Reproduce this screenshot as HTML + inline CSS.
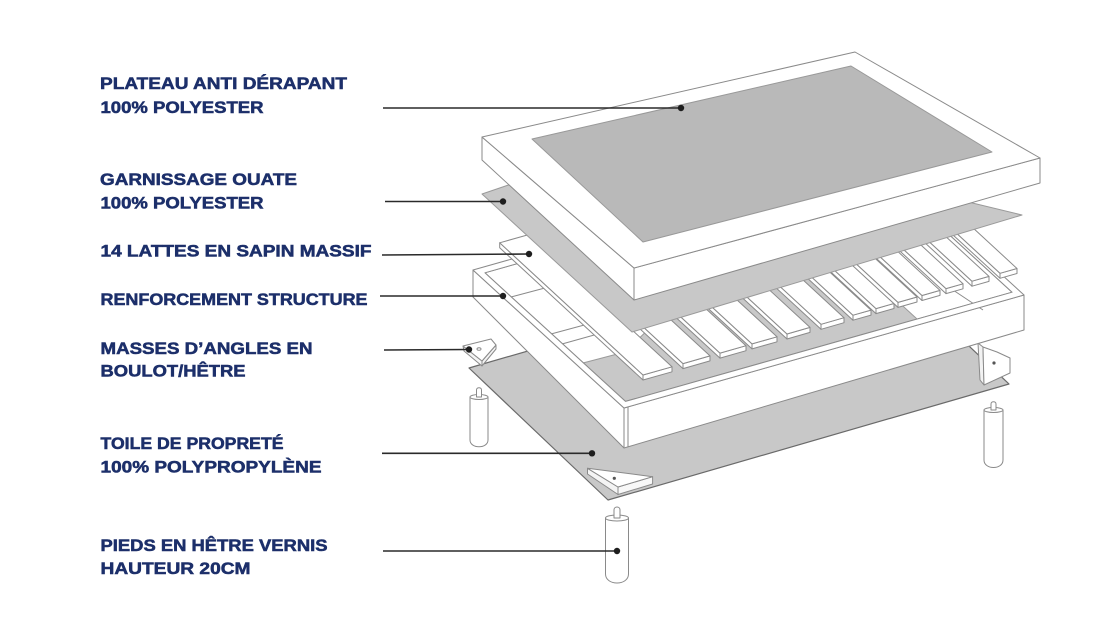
<!DOCTYPE html>
<html><head><meta charset="utf-8">
<style>
html,body{margin:0;padding:0;background:#fff;}
svg{display:block;}
</style></head>
<body>
<svg width="1106" height="622" viewBox="0 0 1106 622" xmlns="http://www.w3.org/2000/svg">
<rect width="1106" height="622" fill="#fff"/>

<g stroke="#8a8a8a" stroke-width="1" stroke-linejoin="round" fill="#fff">
  <!-- toile de propreté -->
  <polygon points="469,368 870,252 1009,384 608,500" fill="#c8c8c8" stroke="#6a6a6a" stroke-width="1.2"/>

  <!-- legs -->
  <path d="M470,397 V440 C470,449 488,449 488,440 V397 Z"/>
  <ellipse cx="479" cy="397" rx="9" ry="2.5"/>
  <path d="M476.5,397 V390 C476.5,387 481.5,387 481.5,390 V397 Z"/>

  <path d="M984,410 V460 C984,470 1003,470 1003,460 V410 Z"/>
  <ellipse cx="993.5" cy="410" rx="9.5" ry="2.5"/>
  <path d="M991,410 V404 C991,401 996,401 996,404 V410 Z"/>

  <path d="M605.5,518 V574 C605.5,586 628.5,586 628.5,574 V518 Z"/>
  <ellipse cx="617" cy="518" rx="11.5" ry="3"/>
  <path d="M614,518 V510 C614,506 620,506 620,510 V518 Z"/>

  <!-- masses d'angles -->
  <polygon points="978,343 983,347 984,385 980,380" fill="#f2f2f2"/>
  <polygon points="983,347 997,352 1010,358 1010,373 984,385"/>
  <circle cx="994" cy="363" r="1.6" fill="#555" stroke="none"/>

  <polygon points="463,346 482,361 482,366 464,351" fill="#f4f4f4"/>
  <polygon points="482,361 496,345 496,349 482,366" fill="#f4f4f4"/>
  <polygon points="463,346 491,339 496,345 482,361"/>
  <ellipse cx="479" cy="349" rx="2" ry="1.3" fill="none"/>

  <polygon points="587.5,468.3 618,487 618,494.5 587.5,474" fill="#f4f4f4"/>
  <polygon points="618,487 652.6,476.7 652.6,484 618,494.5" fill="#f8f8f8"/>
  <polygon points="587.5,468.3 652.6,476.7 618,487"/>
  <circle cx="614.3" cy="478.3" r="1.6" fill="#555" stroke="none"/>

  <!-- box (renforcement structure) -->
  <polygon points="473,270 624,408 624,448 473,297"/>
  <polygon points="624,408 1024,295 1024,330 624,448"/>
  <line x1="628" y1="407" x2="628" y2="447"/>
  <polygon points="484.9,272.8 871.5,163.6 1012.1,292.2 625.5,401.4"/>
  <polygon points="625.5,401.4 917,319 855,262 660,318 625,352 583.4,362.9" fill="#c8c8c8" stroke="#9a9a9a"/>
  <path d="M511,297 L560,284 M551,334 L625,314 M562,344 L630,325 M953,290 L983,310" fill="none"/>
  <path d="M473,270 L873,157 L1024,295 L624,408 Z M484.9,272.8 L871.5,163.6 L1012.1,292.2 L625.5,401.4 Z" fill-rule="evenodd"/>

  <!-- slats -->
  <g>
    <polygon points="499.7,242.8 643,375 643,380 499.7,247.8"/>
    <polygon points="643,375 672,366.8 672,371.8 643,380"/>
    <polygon points="643,375 672,366.8 528.7,234.6 499.7,242.8"/>

    <polygon points="539.7,231.4 683,363.6 683,368.6 539.7,236.4"/>
    <polygon points="683,363.6 710,355.9 710,360.9 683,368.6"/>
    <polygon points="683,363.6 710,355.9 566.7,223.7 539.7,231.4"/>

    <polygon points="576.7,220.9 720,353.1 720,358.1 576.7,225.9"/>
    <polygon points="720,353.1 746,345.7 746,350.7 720,358.1"/>
    <polygon points="720,353.1 746,345.7 602.7,213.5 576.7,220.9"/>

    <polygon points="608.7,211.7 752,343.9 752,348.9 608.7,216.7"/>
    <polygon points="752,343.9 777,336.8 777,341.8 752,348.9"/>
    <polygon points="752,343.9 777,336.8 633.7,204.6 608.7,211.7"/>

    <polygon points="643.7,201.8 787,334 787,339 643.7,206.8"/>
    <polygon points="787,334 810,327.4 810,332.4 787,339"/>
    <polygon points="787,334 810,327.4 666.7,195.2 643.7,201.8"/>

    <polygon points="677.7,192.1 821,324.3 821,329.3 677.7,197.1"/>
    <polygon points="821,324.3 844,317.7 844,322.7 821,329.3"/>
    <polygon points="821,324.3 844,317.7 700.7,185.5 677.7,192.1"/>

    <polygon points="709.7,183 853,315.2 853,320.2 709.7,188"/>
    <polygon points="853,315.2 871,310.1 871,315.1 853,320.2"/>
    <polygon points="853,315.2 871,310.1 727.7,177.9 709.7,183"/>

    <polygon points="732.7,176.4 876,308.6 876,313.6 732.7,181.4"/>
    <polygon points="876,308.6 894,303.5 894,308.5 876,313.6"/>
    <polygon points="876,308.6 894,303.5 750.7,171.3 732.7,176.4"/>

    <polygon points="754.7,170.2 898,302.4 898,307.4 754.7,175.2"/>
    <polygon points="898,302.4 917,297 917,302 898,307.4"/>
    <polygon points="898,302.4 917,297 773.7,164.8 754.7,170.2"/>

    <polygon points="778.7,163.3 922,295.5 922,300.5 778.7,168.3"/>
    <polygon points="922,295.5 940,290.4 940,295.4 922,300.5"/>
    <polygon points="922,295.5 940,290.4 796.7,158.2 778.7,163.3"/>

    <polygon points="802.7,156.4 946,288.6 946,293.6 802.7,161.4"/>
    <polygon points="946,288.6 963,283.8 963,288.8 946,293.6"/>
    <polygon points="946,288.6 963,283.8 819.7,151.6 802.7,156.4"/>

    <polygon points="828.7,149 972,281.2 972,286.2 828.7,154"/>
    <polygon points="972,281.2 989,276.4 989,281.4 972,286.2"/>
    <polygon points="972,281.2 989,276.4 845.7,144.2 828.7,149"/>

    <polygon points="856.7,141.1 1000,273.3 1000,278.3 856.7,146.1"/>
    <polygon points="1000,273.3 1017,268.5 1017,273.5 1000,278.3"/>
    <polygon points="1000,273.3 1017,268.5 873.7,136.3 856.7,141.1"/>
  </g>

  <!-- garnissage ouate -->
  <polygon points="482,194 700,120 960,200 1022,215 632,332" fill="#c8c8c8" stroke="#9a9a9a"/>

  <!-- plateau (top frame) -->
  <polygon points="482,137 634,268 634,300 482,160"/>
  <polygon points="634,268 1040,158 1040,183 634,300"/>
  <polygon points="482,137 855,52 1040,158 634,268"/>
  <polygon points="532,139 851,66 992,152 643,242" fill="#b9b9b9" stroke="#999"/>
</g>

<!-- connectors -->
<g stroke="#2a2a2a" stroke-width="1.6" fill="none">
  <line x1="383" y1="108" x2="681" y2="108"/>
  <line x1="385" y1="201.5" x2="503" y2="201.5"/>
  <line x1="382" y1="255" x2="529" y2="254"/>
  <line x1="380" y1="296" x2="503" y2="296"/>
  <line x1="384" y1="350" x2="469" y2="349.5"/>
  <line x1="382" y1="453.3" x2="592" y2="453.3"/>
  <line x1="383" y1="551" x2="617" y2="551"/>
</g>
<g fill="#1e1e1e">
  <circle cx="681" cy="108" r="3.2"/>
  <circle cx="503" cy="201.5" r="3.2"/>
  <circle cx="529" cy="254" r="3.2"/>
  <circle cx="503" cy="296" r="3.2"/>
  <circle cx="469" cy="349.5" r="3.2"/>
  <circle cx="592" cy="453.3" r="3.2"/>
  <circle cx="617" cy="551" r="3.2"/>
</g>

<!-- labels -->
<g font-family="'Liberation Sans', Arial, sans-serif" font-weight="bold" font-size="17" fill="#1c2f6a" stroke="#1c2f6a" stroke-width="0.55">
  <text x="100" y="89" textLength="247" lengthAdjust="spacingAndGlyphs">PLATEAU ANTI DÉRAPANT</text>
  <text x="100.5" y="113" textLength="163" lengthAdjust="spacingAndGlyphs">100% POLYESTER</text>
  <text x="100" y="185" textLength="197" lengthAdjust="spacingAndGlyphs">GARNISSAGE OUATE</text>
  <text x="100.5" y="208.5" textLength="163" lengthAdjust="spacingAndGlyphs">100% POLYESTER</text>
  <text x="100.5" y="256.7" textLength="271" lengthAdjust="spacingAndGlyphs">14 LATTES EN SAPIN MASSIF</text>
  <text x="100.5" y="305" textLength="267" lengthAdjust="spacingAndGlyphs">RENFORCEMENT STRUCTURE</text>
  <text x="100.5" y="354" textLength="212" lengthAdjust="spacingAndGlyphs">MASSES D’ANGLES EN</text>
  <text x="100.5" y="376.7" textLength="145" lengthAdjust="spacingAndGlyphs">BOULOT/HÊTRE</text>
  <text x="100.5" y="449" textLength="183" lengthAdjust="spacingAndGlyphs">TOILE DE PROPRETÉ</text>
  <text x="100.5" y="472.7" textLength="221" lengthAdjust="spacingAndGlyphs">100% POLYPROPYLÈNE</text>
  <text x="100.5" y="551" textLength="227" lengthAdjust="spacingAndGlyphs">PIEDS EN HÊTRE VERNIS</text>
  <text x="100.5" y="574" textLength="150" lengthAdjust="spacingAndGlyphs">HAUTEUR 20CM</text>
</g>
</svg>
</body></html>
